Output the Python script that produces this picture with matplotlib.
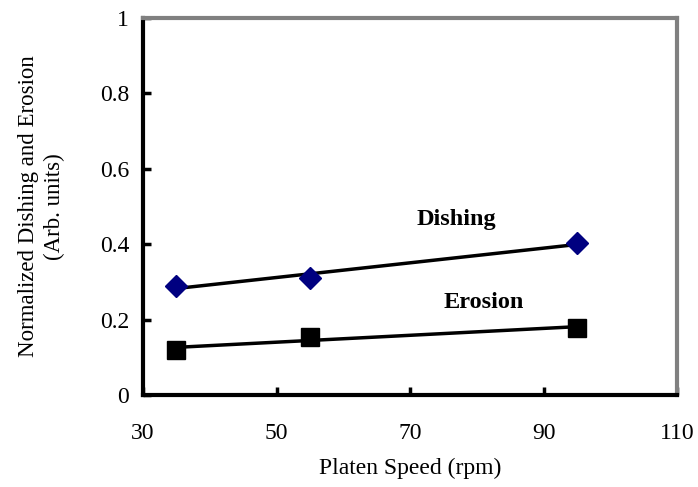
import matplotlib.pyplot as plt
import numpy as np

plt.rcParams['font.family'] = ['Liberation Serif', 'DejaVu Serif']

speed = [35, 55, 95]
dishing = [0.29, 0.31, 0.403]
erosion = [0.12, 0.154, 0.178]

x_ticks = [30, 50, 70, 90, 110]
y_ticks = [0, 0.2, 0.4, 0.6, 0.8, 1]
y_labels = ['0', '0.2', '0.4', '0.6', '0.8', '1']


def main():
    fig = plt.figure(figsize=(6.98, 4.87), dpi=100)
    ax = fig.add_axes([0.205, 0.189, 0.765, 0.774])

    xs = np.array(speed)
    for vals in (dishing, erosion):
        k, b = np.polyfit(xs, vals, 1)
        ax.plot(xs, k * xs + b, color='black', lw=2.5, zorder=2)

    ax.plot(speed, dishing, 'D', color='#000080', ms=11, ls='none', zorder=3)
    ax.plot(speed, erosion, 's', color='black', ms=12.5, ls='none', zorder=3)

    ax.text(77, 0.465, 'Dishing', fontsize=17.5, fontweight='bold',
            ha='center', va='center')
    ax.text(81, 0.245, 'Erosion', fontsize=17.5, fontweight='bold',
            ha='center', va='center')

    ax.set_xlim(30, 110)
    ax.set_ylim(0, 1)
    ax.set_xticks(x_ticks)
    ax.set_yticks(y_ticks)
    ax.set_yticklabels(y_labels)
    ax.tick_params(direction='in', length=6, width=2.5, labelsize=17)
    ax.tick_params(axis='x', pad=20)
    ax.tick_params(axis='y', pad=10)

    for side in ('left', 'bottom'):
        ax.spines[side].set_color('black')
        ax.spines[side].set_linewidth(3)
    for side in ('top', 'right'):
        ax.spines[side].set_color('#808080')
        ax.spines[side].set_linewidth(3)

    ax.set_xlabel('Platen Speed (rpm)', fontsize=17, labelpad=10)
    ax.set_ylabel('Normalized Dishing and Erosion\n(Arb. units)', fontsize=16.5,
                  labelpad=25, linespacing=1.3)

    fig.savefig('out.png')


if "__main__" == __name__:
    main()
